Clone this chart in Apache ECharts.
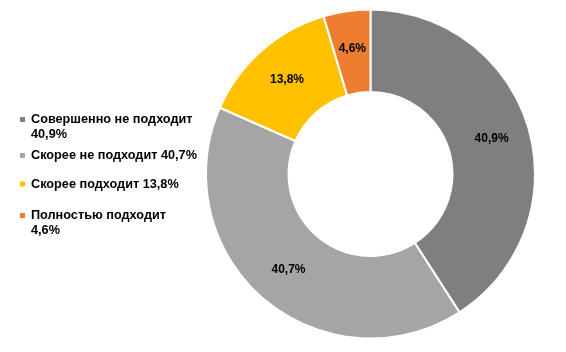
<!DOCTYPE html>
<html>
<head>
<meta charset="utf-8">
<script src="https://cdn.jsdelivr.net/npm/echarts@6/dist/echarts.min.js"></script>
<style>
  html, body { margin: 0; padding: 0; background: #fff; }
  #chart { width: 566px; height: 352px; }
</style>
</head>
<body>
<div id="chart"></div>
<script>
// доли ответов, %
var names = ['Совершенно не подходит', 'Скорее не подходит', 'Скорее подходит', 'Полностью подходит'];
var values = [40.9, 40.7, 13.8, 4.6];
var colors = ['#7f7f7f', '#a5a5a5', '#ffc000', '#ed7d31'];
// где легенда переносит процент на новую строку
var legendBreak = [true, false, false, true];
var legendTop = [97, 148, 176.5, 193];

function pct(v) {
    return v.toFixed(1).replace('.', ',') + '%';
}

var chart = echarts.init(document.getElementById('chart'));

var pieData = [];
for (var i = 0; i < names.length; i++) {
    pieData.push({ name: names[i], value: values[i], itemStyle: { color: colors[i] } });
}

var legends = [];
for (var j = 0; j < names.length; j++) {
    (function (k) {
        legends.push({
            data: [names[k]],
            left: 18,
            top: legendTop[k],
            padding: 0,
            orient: 'vertical',
            icon: 'rect',
            itemWidth: 7,
            itemHeight: 7,
            selectedMode: false,
            formatter: function (name) {
                // пустая первая строка, чтобы значок стоял у первой строки текста
                if (legendBreak[k]) return '\n' + name + '\n' + pct(values[k]);
                return name + ' ' + pct(values[k]);
            },
            textStyle: {
                fontFamily: 'Liberation Sans, Arial, sans-serif',
                fontWeight: 'bold',
                fontSize: 12.7,
                lineHeight: 15,
                color: '#000'
            }
        });
    })(j);
}

var option = {
    animation: false,
    legend: legends,
    series: [
        {
            type: 'pie',
            center: [370.5, 174],
            radius: [82, 164.5],
            startAngle: 90,
            clockwise: true,
            data: pieData,
            itemStyle: {
                borderColor: '#fff',
                borderWidth: 2
            },
            label: {
                position: 'inside',
                formatter: function (p) { return pct(p.value); },
                fontFamily: 'Liberation Sans, Arial, sans-serif',
                fontWeight: 'bold',
                fontSize: 12,
                color: '#000'
            },
            labelLine: { show: false },
            emphasis: { disabled: true }
        }
    ]
};

chart.setOption(option);
</script>
</body>
</html>
